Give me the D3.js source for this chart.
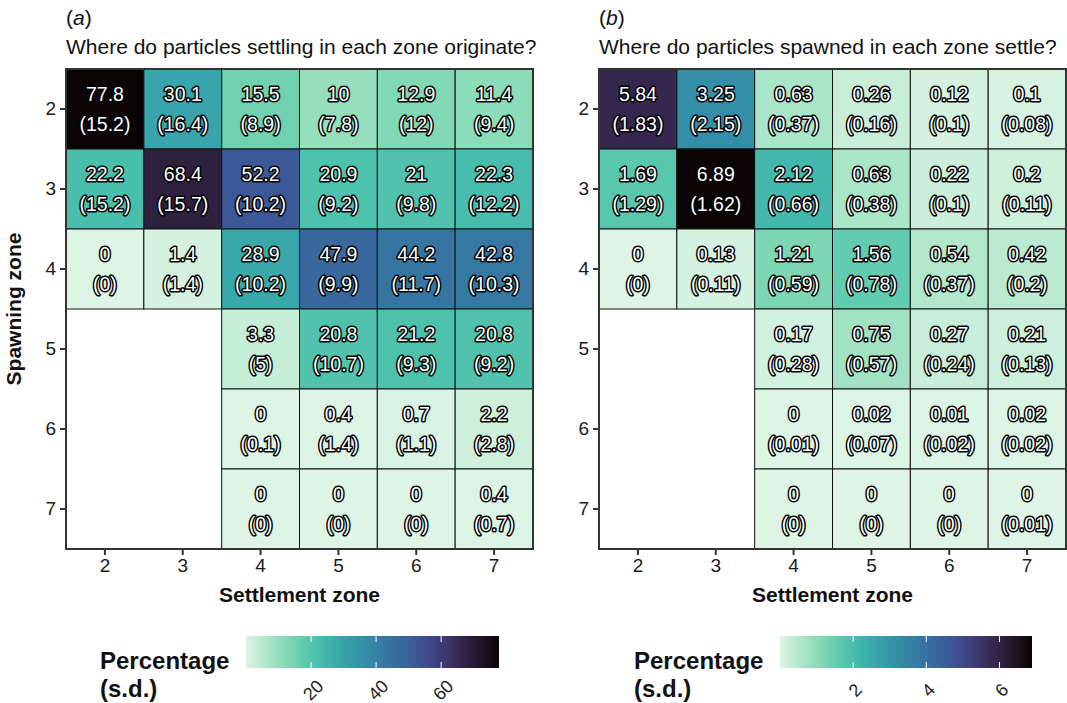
<!DOCTYPE html>
<html><head><meta charset="utf-8">
<script src="https://cdn.jsdelivr.net/npm/d3@7"></script>
<style>
body{margin:0;background:#fff;}
svg{font-family:"Liberation Sans",Arial,Helvetica,sans-serif;}
</style></head>
<body><svg id="chart" width="1067" height="703"></svg>
<script>
const spawnZones = [2,3,4,5,6,7];
const settleZones = [2,3,4,5,6,7];
// Panel a: mean percentage (null = no cell)
const originMean = [
  [77.8, 30.1, 15.5, 10, 12.9, 11.4],
  [22.2, 68.4, 52.2, 20.9, 21, 22.3],
  [0, 1.4, 28.9, 47.9, 44.2, 42.8],
  [null, null, 3.3, 20.8, 21.2, 20.8],
  [null, null, 0, 0.4, 0.7, 2.2],
  [null, null, 0, 0, 0, 0.4]
];
const originSD = [
  [15.2, 16.4, 8.9, 7.8, 12, 9.4],
  [15.2, 15.7, 10.2, 9.2, 9.8, 12.2],
  [0, 1.4, 10.2, 9.9, 11.7, 10.3],
  [null, null, 5, 10.7, 9.3, 9.2],
  [null, null, 0.1, 1.4, 1.1, 2.8],
  [null, null, 0, 0, 0, 0.7]
];
// Panel b
const settleMean = [
  [5.84, 3.25, 0.63, 0.26, 0.12, 0.1],
  [1.69, 6.89, 2.12, 0.63, 0.22, 0.2],
  [0, 0.13, 1.21, 1.56, 0.54, 0.42],
  [null, null, 0.17, 0.75, 0.27, 0.21],
  [null, null, 0, 0.02, 0.01, 0.02],
  [null, null, 0, 0, 0, 0]
];
const settleSD = [
  [1.83, 2.15, 0.37, 0.16, 0.1, 0.08],
  [1.29, 1.62, 0.66, 0.38, 0.1, 0.11],
  [0, 0.11, 0.59, 0.78, 0.37, 0.2],
  [null, null, 0.28, 0.57, 0.24, 0.13],
  [null, null, 0.01, 0.07, 0.02, 0.02],
  [null, null, 0, 0, 0, 0.01]
];
const legendTicksA = [20, 40, 60];
const legendTicksB = [2, 4, 6];

// mako palette (dark -> light)
const makoStops = ["#0B0405","#28192F","#3B2F5E","#40498E","#38629D","#357BA2","#3492A8","#38AAAC","#49C1AD","#78D6AE","#A9E5C6","#DEF5E5"];
const mako = d3.interpolateRgbBasis(makoStops);

const svg = d3.select("#chart");

function panel(opts){
  const {x0, y0, w, h, label, subtitle, mean, sd, ticks, legX, legW, titleX, ylab} = opts;
  const g = svg.append("g");
  const x = d3.scaleBand().domain(settleZones).range([x0, x0+w]);
  const y = d3.scaleBand().domain(spawnZones).range([y0, y0+h]);
  const vmax = d3.max(mean.flat().filter(v=>v!=null));
  const color = d3.scaleSequential(t=>mako(1-t)).domain([0, vmax]);

  const cells = [];
  spawnZones.forEach((s,i)=>settleZones.forEach((z,j)=>{
    if(mean[i][j]!=null) cells.push({s, z, m:mean[i][j], sd:sd[i][j]});
  }));

  g.selectAll("rect.cell").data(cells).enter().append("rect")
    .attr("x", d=>x(d.z)).attr("y", d=>y(d.s))
    .attr("width", x.bandwidth()).attr("height", y.bandwidth())
    .attr("fill", d=>color(d.m)).attr("stroke","#111").attr("stroke-width",1);

  const txt = g.selectAll("g.lab").data(cells).enter().append("g")
    .attr("transform", d=>`translate(${x(d.z)+x.bandwidth()/2},${y(d.s)+y.bandwidth()/2})`);
  [[-15, d=>String(d.m)], [15, d=>"("+d.sd+")"]].forEach(([dy,f])=>{
    txt.append("text").attr("y", dy).attr("dy","0.36em").attr("text-anchor","middle")
      .attr("font-size", 19.5).attr("fill","#fff").attr("stroke","#000").attr("stroke-width",3)
      .attr("stroke-linejoin","round").attr("paint-order","stroke").text(f);
  });

  // panel border
  g.append("rect").attr("x",x0).attr("y",y0).attr("width",w).attr("height",h)
    .attr("fill","none").attr("stroke","#333").attr("stroke-width",2);

  // axes
  const xAxis = g.append("g").attr("transform",`translate(0,${y0+h+1})`)
    .call(d3.axisBottom(x).tickSize(5).tickPadding(4));
  const yAxis = g.append("g").attr("transform",`translate(${x0-1},0)`)
    .call(d3.axisLeft(y).tickSize(5).tickPadding(4));
  [xAxis,yAxis].forEach(a=>{
    a.select(".domain").remove();
    a.selectAll(".tick line").attr("stroke","#333").attr("stroke-width",2);
    a.selectAll(".tick text").attr("font-size",19).attr("fill","#1a1a1a")
      .attr("font-family","Liberation Sans,Arial,sans-serif");
  });

  g.append("text").attr("x", x0+w/2).attr("y", y0+h+53).attr("text-anchor","middle")
    .attr("font-size",21).attr("font-weight","bold").attr("fill","#111").text("Settlement zone");
  if(ylab){
    g.append("text").attr("transform",`translate(${x0-45},${y0+h/2}) rotate(-90)`)
      .attr("text-anchor","middle").attr("font-size",21).attr("font-weight","bold").attr("fill","#111").text("Spawning zone");
  }

  const t1 = g.append("text").attr("x", x0).attr("y", 25).attr("font-size",21).attr("fill","#111");
  t1.append("tspan").text("(");
  t1.append("tspan").attr("font-style","italic").text(label);
  t1.append("tspan").text(")");
  g.append("text").attr("x", x0).attr("y", 54).attr("font-size",21).attr("fill","#111").text(subtitle);

  // legend
  const gid = "grad"+label;
  const grad = svg.append("defs").append("linearGradient").attr("id",gid);
  d3.range(0,1.0001,0.05).forEach(t=>grad.append("stop").attr("offset",t).attr("stop-color",mako(1-t)));
  const ly0 = 636, lh = 32;
  g.append("rect").attr("x",legX).attr("y",ly0).attr("width",legW).attr("height",lh).attr("fill",`url(#${gid})`);
  const ls = d3.scaleLinear().domain([0,vmax]).range([legX, legX+legW]);
  ticks.forEach(v=>{
    g.append("line").attr("x1",ls(v)).attr("x2",ls(v)).attr("y1",ly0).attr("y2",ly0+6).attr("stroke","#fff").attr("stroke-width",1);
    g.append("line").attr("x1",ls(v)).attr("x2",ls(v)).attr("y1",ly0+lh-6).attr("y2",ly0+lh).attr("stroke","#fff").attr("stroke-width",1);
    g.append("text").attr("transform",`translate(${ls(v)+2},${ly0+lh+22}) rotate(-45)`)
      .attr("text-anchor","middle").attr("dy","0.35em").attr("font-size",18).attr("fill","#222").text(v);
  });
  g.append("text").attr("x",titleX).attr("y",669).attr("font-size",24).attr("font-weight","bold").attr("fill","#111").text("Percentage");
  g.append("text").attr("x",titleX).attr("y",697).attr("font-size",24).attr("font-weight","bold").attr("fill","#111").text("(s.d.)");
}

panel({x0:66, y0:69, w:467, h:480, label:"a", subtitle:"Where do particles settling in each zone originate?",
  mean:originMean, sd:originSD, ticks:legendTicksA, legX:246, legW:253, titleX:100, ylab:true});
panel({x0:599, y0:69, w:467, h:480, label:"b", subtitle:"Where do particles spawned in each zone settle?",
  mean:settleMean, sd:settleSD, ticks:legendTicksB, legX:780, legW:252, titleX:634, ylab:false});
</script></body></html>
